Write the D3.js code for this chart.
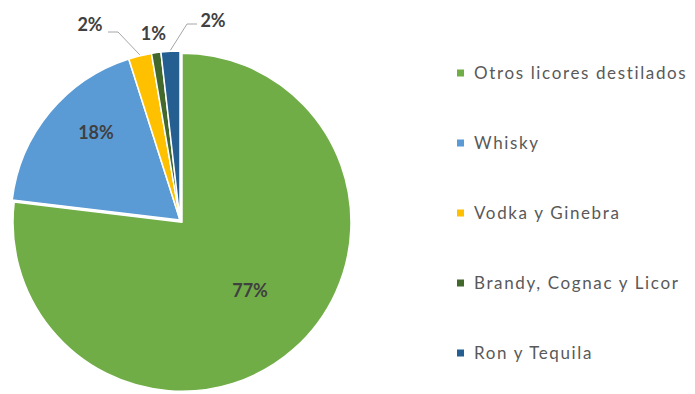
<!DOCTYPE html>
<html>
<head>
<meta charset="utf-8">
<script src="https://cdn.jsdelivr.net/npm/d3@7"></script>
<style>
  body { margin: 0; background: #fff; }
  svg { display: block; font-family: Lato, "Open Sans", sans-serif; }
</style>
</head>
<body>
<svg class="chart"></svg>
<script>
// chart data
var categories = ["Otros licores destilados", "Whisky", "Vodka y Ginebra", "Brandy, Cognac y Licor", "Ron y Tequila"];
var shares = [76.9, 18.2, 2.2, 0.9, 1.8];
var colors = ["#70ad47", "#5b9bd5", "#ffc000", "#43682b", "#255e91"];
var labels = ["77%", "18%", "2%", "1%", "2%"];

var width = 695, height = 394;
var cx = 180, cy = 220, radius = 169;

var svg = d3.select(".chart").attr("width", width).attr("height", height);

var data = categories.map(function(c, i){
    return {name: c, value: shares[i], color: colors[i], label: labels[i]};
});

var pie = d3.pie().sort(null).value(function(d){ return d.value; });
var arcs = pie(data);
var arc = d3.arc().innerRadius(0).outerRadius(radius);

// the big slice is pulled out a little
var explode = [3, 0, 0, 0, 0];

var g = svg.append("g").attr("transform", "translate(" + cx + "," + cy + ")");

g.selectAll("path")
  .data(arcs)
  .enter()
  .append("path")
  .attr("d", arc)
  .attr("fill", function(d){ return d.data.color; })
  .attr("stroke", "#fff")
  .attr("stroke-width", 1.5)
  .attr("stroke-linejoin", "round")
  .attr("transform", function(d, i){
      var a = (d.startAngle + d.endAngle) / 2;
      return "translate(" + (Math.sin(a) * explode[i]) + "," + (-Math.cos(a) * explode[i]) + ")";
  });

// label placement: inside ones along the bisector, outside ones moved by hand like in the original
function mid(d){ return (d.startAngle + d.endAngle) / 2; }
function polar(a, r){ return [Math.sin(a) * r, -Math.cos(a) * r]; }

var labelPos = [
    {r: 99, da: -0.06},
    {r: 122, da: 0.12},
    {dx: -90, dy: -196, line: true, hx: 18, ex: 28, ly: 8},
    {r: 189, da: 0},
    {dx: 33, dy: -200, line: true, hx: -16, ex: -26, ly: 4}
];

arcs.forEach(function(d, i){
    var p = labelPos[i], x, y;
    if (p.dx !== undefined) {
        x = p.dx; y = p.dy;
    } else {
        var q = polar(mid(d) + p.da, p.r);
        x = q[0]; y = q[1];
    }
    if (p.line) {
        var s = polar(mid(d), radius + 1);
        g.append("path")
          .attr("d", "M" + s[0] + "," + s[1] + "L" + (x + p.ex) + "," + (y + p.ly) + "L" + (x + p.hx) + "," + (y + p.ly))
          .attr("fill", "none")
          .attr("stroke", "#a6a6a6")
          .attr("stroke-width", 1);
    }
    g.append("text")
      .attr("x", x)
      .attr("y", y)
      .attr("text-anchor", "middle")
      .attr("dominant-baseline", "central")
      .attr("font-size", "18px")
      .attr("font-weight", "bold")
      .attr("fill", "#404040")
      .text(d.data.label);
});

// legend
var legend = svg.append("g").attr("transform", "translate(457,73)");
var rows = legend.selectAll("g")
  .data(data)
  .enter()
  .append("g")
  .attr("transform", function(d, i){ return "translate(0," + (i * 70) + ")"; });

rows.append("rect")
  .attr("x", 0).attr("y", -3.5)
  .attr("width", 7).attr("height", 7)
  .attr("fill", function(d){ return d.color; });

var legendText = rows.append("text")
  .attr("x", 17)
  .attr("y", -1)
  .attr("dominant-baseline", "central")
  .attr("font-size", "17px")
  .attr("fill", "#595959")
  .text(function(d){ return d.name; });

// stretch the spacing so the longest entry is as wide as in the original
var first = legendText.node();
var spacing = (212 - first.getComputedTextLength()) / (categories[0].length - 1);
legendText.attr("letter-spacing", spacing + "px");
</script>
</body>
</html>
